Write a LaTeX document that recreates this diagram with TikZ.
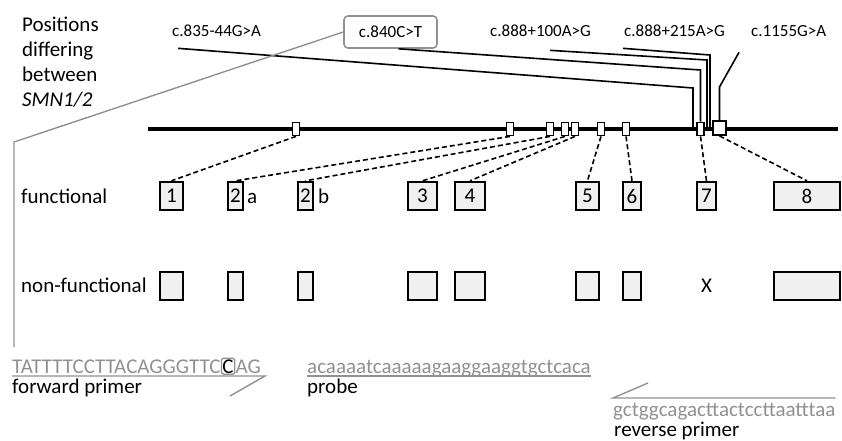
\documentclass[tikz,border=0pt]{standalone}
\usepackage{fontspec}
\setmainfont{Carlito}
\usetikzlibrary{positioning}
\definecolor{seqgray}{RGB}{145,145,145}
\definecolor{exonfill}{RGB}{240,240,240}

\begin{document}
\begin{tikzpicture}[
    x=1pt, y=-1pt,
    every node/.style={font=\fontsize{21}{25}\selectfont, inner sep=0pt},
    exon/.style={rectangle, draw=black, line width=2.4pt, fill=exonfill, minimum height=28pt},
    site/.style={rectangle, draw=black, line width=1.8pt, fill=white, minimum width=7pt, minimum height=13pt},
    mut/.style={font=\fontsize{17}{20}\selectfont, anchor=base west},
    link/.style={black, line width=1.6pt, dash pattern=on 5pt off 3pt},
    varline/.style={black, line width=1.6pt},
    grayline/.style={seqgray, line width=1.4pt},
    seq/.style={text=seqgray, anchor=base west}
]
\useasboundingbox (0,0) rectangle (842,440);

\node[anchor=north west, align=left] (head) at (22,17)
    {Positions\\differing\\between\\\textit{SMN1/2}};

% variant labels
\node[mut] (m835)  at (172,36) {c.835-44G>A};
\node[mut] (m100)  at (490,36) {c.888+100A>G};
\node[mut] (m215)  at (624,36) {c.888+215A>G};
\node[mut] (m1155) at (751,36) {c.1155G>A};
\node[font=\fontsize{17}{20}\selectfont, draw=seqgray, line width=1.6pt, rounded corners=4pt,
      minimum width=93pt, minimum height=32pt] (m840) at (390.5,32) {c.840C>T};

% gene
\draw[line width=4.5pt] (148,129) -- (838,129);
\foreach \x/\i in {296/1, 510/2, 550/3, 565/4, 575/5, 601/6, 626/7, 700.5/8}
    \node[site] (s\i) at (\x,129) {};
\node[site, minimum width=13pt, minimum height=14pt] (s9) at (719.5,128) {};
\coordinate (g835) at (693,129);
\coordinate (g100) at (707,129);
\coordinate (g215) at (710,129);

% exons
\node[anchor=base west] (lfun) at (21,203) {functional};
\node[anchor=base west] (lnon) at (21,292) {non-functional};
\foreach \x/\w/\i/\lab in {171.5/23/1/1, 235.5/15/2/2, 305.5/15/3/2, 422.5/29/4/3, 470/30/5/4,
                           587.5/23/6/5, 632/18/7/6, 706.5/19/8/7, 807/66/9/8}
    \node[exon, minimum width={\w pt}] (f\i) at (\x,196) {\lab};
\node[anchor=base west] (fa) at (247,203) {a};
\node[anchor=base west] (fb) at (318,203) {b};
\foreach \x/\w/\i in {171.5/23/1, 235.5/15/2, 305.5/15/3, 422.5/29/4, 470/30/5,
                      587.5/23/6, 632/18/7, 807/66/9}
    \node[exon, minimum width={\w pt}] (n\i) at (\x,286) {};
\node (n8) at (706.5,286) {X};

\foreach \i in {1,...,9}
    \draw[link] (s\i.south) -- (f\i.north);

% variant positions
\draw[varline] ([xshift=6pt,yshift=-12pt]m835.south west) -- (g835 |- 0,88) -- (g835);
\draw[varline] ([xshift=8pt]m840.south) -- (s8.north |- 0,70) -- (s8.north);
\draw[varline] ([xshift=60pt,yshift=-14pt]m100.south west) -- (g100 |- 0,60) -- (g100);
\draw[varline] ([xshift=-1pt,yshift=-12pt]m215.south west) -- (g215 |- 0,55) -- (g215);
\draw[varline] ([xshift=-12pt,yshift=-16pt]m1155.south west) -- (s9.north |- 0,87) -- (s9.north);

% assay
\node[seq] (fwd) at (12,373) {TATTTTCCTTACAGGGTTC};
\node[draw=seqgray, line width=1.3pt, rounded corners=2pt, inner sep=1pt, anchor=base west]
    (snp) at (fwd.base east) {C};
\node[seq] (fwdend) at (snp.base east) {AG};
\draw[grayline] ([yshift=-3pt]fwd.base west) -- ([xshift=4pt,yshift=-3pt]fwdend.base east) -- ++(-35,20);
\node[anchor=base west] (fwdlab) at (12,393) {forward primer};

\coordinate (fwdtop) at ([xshift=2pt,yshift=12pt]fwd.north west);
\draw[grayline] (m840.west) -- (fwdtop |- 0,142) -- (fwdtop);

\node[seq] (probe) at (307,373) {acaaaatcaaaaagaaggaaggtgctcaca};
\draw[grayline] ([yshift=-3pt]probe.base west) -- ([yshift=-3pt]probe.base east);
\node[anchor=base west] (probelab) at (307,393) {probe};

\node[seq] (rev) at (613,416) {gctggcagacttactccttaatttaa};
\draw[grayline] ([xshift=35pt,yshift=33pt]rev.base west) -- ([yshift=18pt]rev.base west)
    -- ([yshift=18pt]rev.base east);
\node[anchor=base west] (revlab) at (614,436) {reverse primer};
\end{tikzpicture}
\end{document}
